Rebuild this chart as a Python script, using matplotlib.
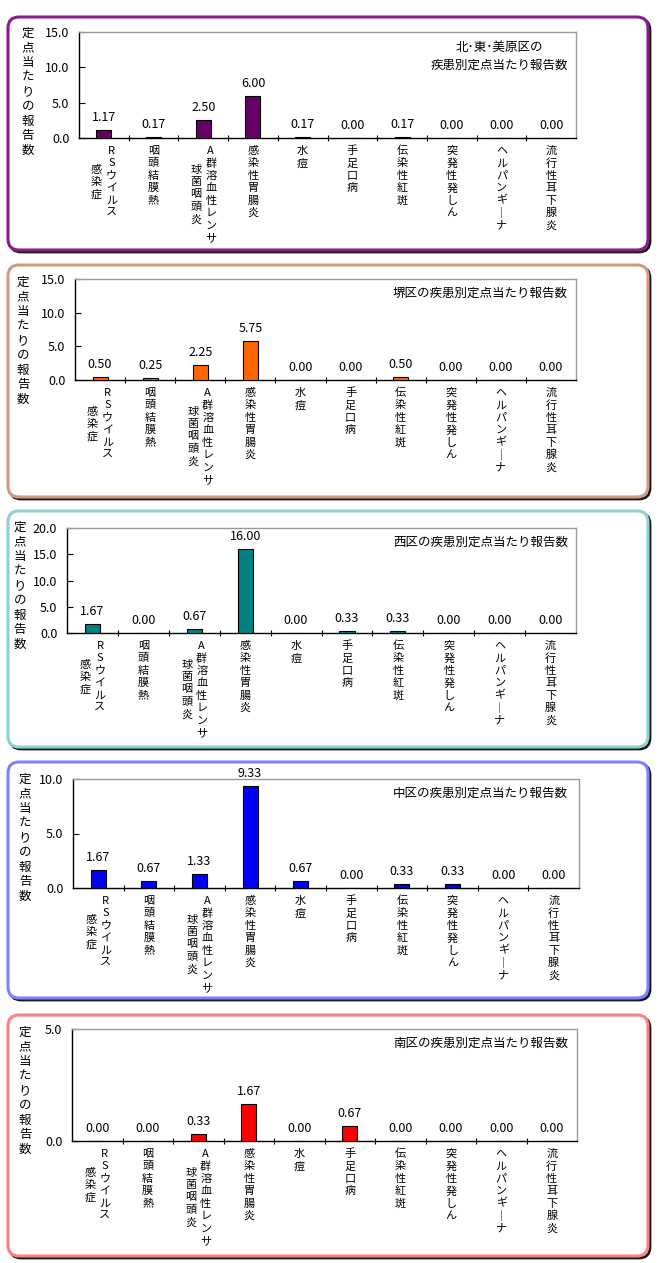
import matplotlib
matplotlib.use('Agg')
import matplotlib.pyplot as plt
from matplotlib.patches import FancyBboxPatch

plt.rcParams['font.family'] = ['Noto Sans CJK JP', 'DejaVu Sans']

# ---------------- data ----------------
categories = ['RSウイルス感染症', '咽頭結膜熱', 'A群溶血性レンサ球菌咽頭炎', '感染性胃腸炎',
              '水痘', '手足口病', '伝染性紅斑', '突発性発しん', 'ヘルパンギーナ', '流行性耳下腺炎']
# vertical label columns (right column first)
label_columns = [['RSウイルス', '感染症'], ['咽頭結膜熱'], ['A群溶血性レンサ', '球菌咽頭炎'],
                 ['感染性胃腸炎'], ['水痘'], ['手足口病'], ['伝染性紅斑'], ['突発性発しん'],
                 ['ヘルパンギーナ'], ['流行性耳下腺炎']]

titles = ['北･東･美原区の\n疾患別定点当たり報告数', '堺区の疾患別定点当たり報告数',
          '西区の疾患別定点当たり報告数', '中区の疾患別定点当たり報告数',
          '南区の疾患別定点当たり報告数']

kita_higashi_mihara = [1.17, 0.17, 2.50, 6.00, 0.17, 0.00, 0.17, 0.00, 0.00, 0.00]
sakai = [0.50, 0.25, 2.25, 5.75, 0.00, 0.00, 0.50, 0.00, 0.00, 0.00]
nishi = [1.67, 0.00, 0.67, 16.00, 0.00, 0.33, 0.33, 0.00, 0.00, 0.00]
naka = [1.67, 0.67, 1.33, 9.33, 0.67, 0.00, 0.33, 0.33, 0.00, 0.00]
minami = [0.00, 0.00, 0.33, 1.67, 0.00, 0.67, 0.00, 0.00, 0.00, 0.00]
series = [kita_higashi_mihara, sakai, nishi, naka, minami]

y_max = [15, 15, 20, 10, 5]
y_label = '定点当たりの報告数'

# ---------------- styles / layout (pixels) ----------------
bar_colors = ['#660066', '#FF6600', '#008080', '#0000FF', '#FF0000']
border_colors = ['#8B1A8B', '#D49A80', '#8FD0D0', '#8080FF', '#FF8080']
panel_boxes = [(8, 17, 640, 233), (8, 265, 640, 232), (8, 511, 640, 236),
               (8, 762, 640, 236), (8, 1015, 640, 241)]
axes_boxes = [(79, 32, 576, 138), (75, 279, 576, 380), (67, 528, 576, 633),
              (73, 779, 579, 888), (72, 1029, 577, 1141)]
ylabel_pos = [(28, 33), (23, 282), (20, 527), (25, 779), (25, 1032)]

W, H = 660, 1263
fig = plt.figure(figsize=(W / 100, H / 100), dpi=100)

bg = fig.add_axes([0, 0, 1, 1])
bg.set_xlim(0, W)
bg.set_ylim(H, 0)
bg.axis('off')

for k in range(5):
    x, y, w, h = panel_boxes[k]
    shadow = FancyBboxPatch((x + 2, y + 2), w, h, boxstyle='round,pad=0,rounding_size=11',
                            facecolor='none', edgecolor='#1a1a1a', lw=2.0)
    bg.add_patch(shadow)
    box = FancyBboxPatch((x, y), w, h, boxstyle='round,pad=0,rounding_size=11',
                         facecolor='white', edgecolor=border_colors[k], lw=2.2)
    bg.add_patch(box)
    lx, ly = ylabel_pos[k]
    for j, ch in enumerate(y_label):
        bg.text(lx, ly + j * 14.7, ch, ha='center', va='center', fontsize=9)

px2pt = 72 / 100
for k in range(5):
    x0, y0, x1, y1 = axes_boxes[k]
    ax = fig.add_axes([x0 / W, 1 - y1 / H, (x1 - x0) / W, (y1 - y0) / H])
    vals = series[k]
    xs = list(range(len(categories)))
    ax.bar(xs, vals, width=0.3, color=bar_colors[k], edgecolor='black', lw=0.8, zorder=3)
    ax.set_xlim(-0.5, len(categories) - 0.5)
    ax.set_ylim(0, y_max[k])
    ax.set_yticks(range(0, y_max[k] + 1, 5))
    ax.set_yticklabels([f'{t:.1f}' for t in range(0, y_max[k] + 1, 5)], fontsize=9)
    ax.tick_params(axis='y', direction='in', length=4, pad=7, width=0.8)
    ax.set_xticks([i + 0.5 for i in range(len(categories) - 1)])
    ax.set_xticklabels([])
    ax.tick_params(axis='x', direction='inout', length=5, width=0.8)
    for s in ['top', 'right']:
        ax.spines[s].set_color('#9a9a9a')
        ax.spines[s].set_linewidth(1)
    for s in ['left', 'bottom']:
        ax.spines[s].set_color('black')
        ax.spines[s].set_linewidth(1)
    # value labels
    for i, v in enumerate(vals):
        ax.annotate(f'{v:.2f}', xy=(i, v), xytext=(0, 9), textcoords='offset points',
                    ha='center', va='center', fontsize=9, annotation_clip=False)
    # title
    ax.text((568 - x0) / (x1 - x0), 1 - 14 / (y1 - y0) if k > 0 else 1 - 24 / (y1 - y0),
            titles[k], transform=ax.transAxes, ha='right', va='center',
            multialignment='center', fontsize=9, linespacing=1.5)
    # vertical category labels
    for i, cols in enumerate(label_columns):
        N = max(len(c) for c in cols)
        nc = len(cols)
        for c, col in enumerate(cols):
            dx = 0 if nc == 1 else (7.5 if c == 0 else -7.5)
            start = (N - len(col)) / 2
            for j, ch in enumerate(col):
                dy = -(13 + (start + j) * 12.4)
                glyph = '｜' if ch == 'ー' else ch
                ax.annotate(glyph, xy=(i, 0), xycoords=('data', 'axes fraction'),
                            xytext=(dx * px2pt, dy * px2pt), textcoords='offset points',
                            ha='center', va='center', fontsize=8, annotation_clip=False)

fig.savefig('out.png', dpi=100)
